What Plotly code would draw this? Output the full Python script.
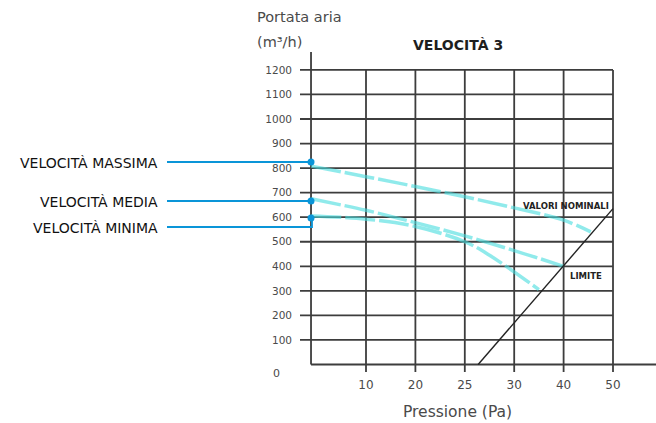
import plotly.graph_objects as go

# ---------------- data ----------------
flow_ticks = [100, 200, 300, 400, 500, 600, 700, 800, 900, 1000, 1100, 1200]
flow_labels = ["100", "200", "300", "400", "500", "600", "700", "800", "900", "1000", "1100", "1200"]
pressure_pos = [1, 2, 3, 4, 5, 6]            # grid columns
pressure_labels = ["10", "20", "25", "30", "40", "50"]

vel_max_x = [-0.11, 1, 2, 3, 4, 5, 5.55]
vel_max_y = [808, 765, 725, 683, 638, 588, 540]

vel_med_x = [-0.11, 1, 2, 3, 4, 5.0]
vel_med_y = [675, 628, 578, 524, 464, 400]

vel_min_x = [-0.11, 1, 2, 3, 3.5, 4.5]
vel_min_y = [605, 592, 562, 500, 445, 305]

limit_x = [3.27, 6.0]
limit_y = [0, 635]

# ---------------- geometry helpers ----------------
W, H = 656, 423
PX0, PXU = 316.6, 49.4      # x pixel = PX0 + PXU * x
PY0, PYU = 364.5, 0.2455    # y pixel = PY0 - PYU * y
AXIS_X = -0.113

def px2x(px):
    return (px - PX0) / PXU

def py2y(py):
    return (PY0 - py) / PYU

GRID = "#3d3d3d"
CYAN = "rgba(70,220,222,0.6)"
BLUE = "#0a95d8"
TXT = "#4a4a4a"
FONT = "DejaVu Sans"

fig = go.Figure()

shapes = []
for v in flow_ticks:
    shapes.append(dict(type="line", x0=px2x(300), x1=6.0, y0=v, y1=v,
                       line=dict(color=GRID, width=1.8), layer="below"))
for p in pressure_pos:
    shapes.append(dict(type="line", x0=p, x1=p, y0=py2y(372), y1=1200,
                       line=dict(color=GRID, width=1.8), layer="below"))
shapes.append(dict(type="line", x0=AXIS_X, x1=AXIS_X, y0=0, y1=py2y(52),
                   line=dict(color=GRID, width=1.8), layer="below"))
shapes.append(dict(type="line", x0=AXIS_X, x1=px2x(660), y0=0, y1=0,
                   line=dict(color=GRID, width=1.8), layer="below"))

for xs, ys in [(vel_max_x, vel_max_y), (vel_med_x, vel_med_y), (vel_min_x, vel_min_y)]:
    fig.add_trace(go.Scatter(x=xs, y=ys, mode="lines", line_shape="spline",
                             line=dict(color=CYAN, width=3.5, dash="30px,4px"),
                             hoverinfo="skip", showlegend=False))

fig.add_trace(go.Scatter(x=limit_x, y=limit_y, mode="lines",
                         line=dict(color="#222222", width=1.4),
                         hoverinfo="skip", showlegend=False))

callouts = [
    ("VELOCITÀ MASSIMA", 162, 162),
    ("VELOCITÀ MEDIA", 201, 201),
    ("VELOCITÀ MINIMA", 227, 218),
]
annotations = []
for label, ly, dy in callouts:
    xs = [px2x(167), px2x(312)]
    ys = [py2y(ly), py2y(ly)]
    if ly != dy:
        xs.append(px2x(312))
        ys.append(py2y(dy))
    fig.add_trace(go.Scatter(x=xs, y=ys, mode="lines",
                             line=dict(color=BLUE, width=1.8),
                             hoverinfo="skip", showlegend=False))
    fig.add_trace(go.Scatter(x=[px2x(311)], y=[py2y(dy)], mode="markers",
                             marker=dict(color=BLUE, size=7),
                             hoverinfo="skip", showlegend=False))
    annotations.append(dict(x=160 / W, y=1 - (ly + 1) / H, xref="paper", yref="paper",
                            text=label, showarrow=False, xanchor="right", yanchor="middle",
                            font=dict(family="DejaVu Sans", size=14, color="#111111")))

def ann(text, px, py, size, color=TXT, anchor="left", bold=False, family=FONT):
    annotations.append(dict(x=px / W, y=1 - py / H, xref="paper", yref="paper",
                            text=f"<b>{text}</b>" if bold else text, showarrow=False,
                            xanchor=anchor, yanchor="middle",
                            font=dict(family=family, size=size, color=color)))

ann("Portata aria", 255, 17, 14.5)
ann("(m³/h)", 255, 42, 14.5)
ann("VELOCITÀ 3", 458, 45, 14, color="#1e1e1e", anchor="center", bold=True)
ann("Pressione (Pa)", 457, 412, 15.5, anchor="center")
ann("0", 276, 373, 11, anchor="center")
ann("VALORI NOMINALI", 566, 206, 8.5, color="#222222", anchor="center", bold=True)
ann("LIMITE", 586, 276, 8.5, color="#222222", anchor="center", bold=True)

fig.update_layout(
    width=W, height=H,
    margin=dict(l=0, r=0, t=0, b=0),
    paper_bgcolor="white", plot_bgcolor="white",
    shapes=shapes, annotations=annotations,
    showlegend=False,
    xaxis=dict(range=[px2x(0), px2x(W)], showgrid=False, zeroline=False, showline=False,
               tickvals=pressure_pos, ticktext=pressure_labels, ticks="",
               anchor="free", position=(H - 376) / H,
               tickfont=dict(family=FONT, size=12, color=TXT), fixedrange=True),
    yaxis=dict(range=[py2y(H), py2y(0)], showgrid=False, zeroline=False, showline=False,
               tickvals=flow_ticks, ticktext=flow_labels, ticks="",
               anchor="free", position=292 / W,
               tickfont=dict(family=FONT, size=10.5, color=TXT), fixedrange=True),
)

fig.write_html("out.html", config={"displayModeBar": False},
               post_script="document.body.style.margin='0';document.body.style.padding='0';")
